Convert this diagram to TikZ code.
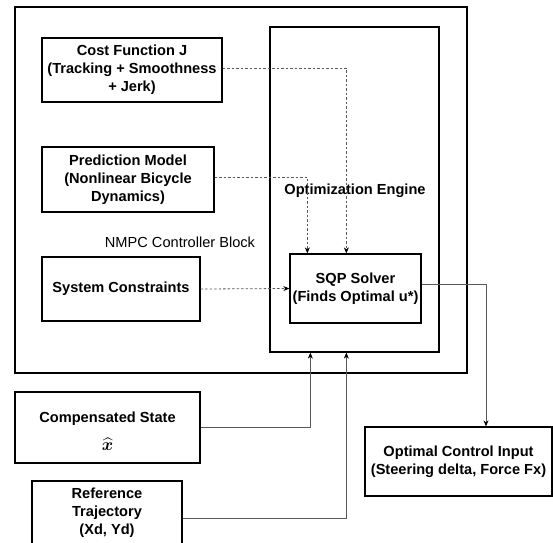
\documentclass[tikz,border=0pt]{standalone}
\usepackage{amsmath}
\usepackage{bm}
\usepackage{fontspec}
\setmainfont{Liberation Sans}
\usetikzlibrary{arrows.meta,calc}
\begin{document}
\begin{tikzpicture}[x=1pt,y=-1pt,
  box/.style={draw=black,line width=1.3pt,minimum width=#1,inner sep=0pt,align=center,
     font=\fontsize{14.6}{18}\selectfont\bfseries},
  lbl/.style={inner sep=0pt,font=\fontsize{14.6}{18}\selectfont},
  dconn/.style={draw=black!65,line width=0.8pt,dash pattern=on 2.5pt off 2pt,-{Stealth[length=6pt,width=5pt,color=black]}},
  sconn/.style={draw=black!65,line width=0.8pt,-{Stealth[length=6pt,width=5pt,color=black]}}]
\useasboundingbox (0,0) rectangle (553,542);
\node[box=452,minimum height=366] (outer) at (241,190) {};
\node[box=169,minimum height=325] (opt) at (354.5,189.5) {};
\node[box=180,minimum height=64] (cost) at (132,70) {Cost Function J\\(Tracking + Smoothness\\+ Jerk)};
\node[box=172,minimum height=65] (pred) at (128,179.5) {Prediction Model\\(Nonlinear Bicycle\\Dynamics)};
\node[box=158,minimum height=64] (sys) at (121,289) {System Constraints};
\node[box=131,minimum height=69] (sqp) at (355.5,288.5) {SQP Solver\\(Finds Optimal u*)};
\node[box=185,minimum height=71] (comp) at (107.5,427.5) {};
\node[lbl,font=\fontsize{14.6}{18}\selectfont\bfseries] (comptext) at (107.5,419) {Compensated State};
\node[inner sep=0pt,font=\fontsize{16}{16}\selectfont] (xhat) at (107.5,444) {$\widehat{\bm{x}}$};
\node[box=150,minimum height=64] (ref) at (107,513) {Reference\\Trajectory\\(Xd, Yd)};
\node[box=187,minimum height=69] (out) at (458.5,461.5) {Optimal Control Input\\(Steering delta, Force Fx)};
\node[lbl] (nmpc) at (180,242) {NMPC Controller Block};
\node[lbl,font=\fontsize{14.6}{18}\selectfont\bfseries] (opttitle) at (355,191) {Optimization Engine};
\draw[dconn] ($(cost.east)+(0,-2)$) -| ($(sqp.north west)+(57,0)$);
\draw[dconn] ($(pred.east)+(0,-2.5)$) -| ($(sqp.north west)+(18,0)$);
\draw[dconn] (sys.east) -- (sqp.west);
\draw[sconn] ($(sqp.east)+(0,-4.5)$) -| ($(out.north)+(27.5,0)$);
\draw[sconn] (comp.east) -| ($(opt.south west)+(41,0)$);
\draw[sconn] ($(ref.east)+(0,5)$) -| ($(opt.south west)+(77,0)$);
\end{tikzpicture}
\end{document}
